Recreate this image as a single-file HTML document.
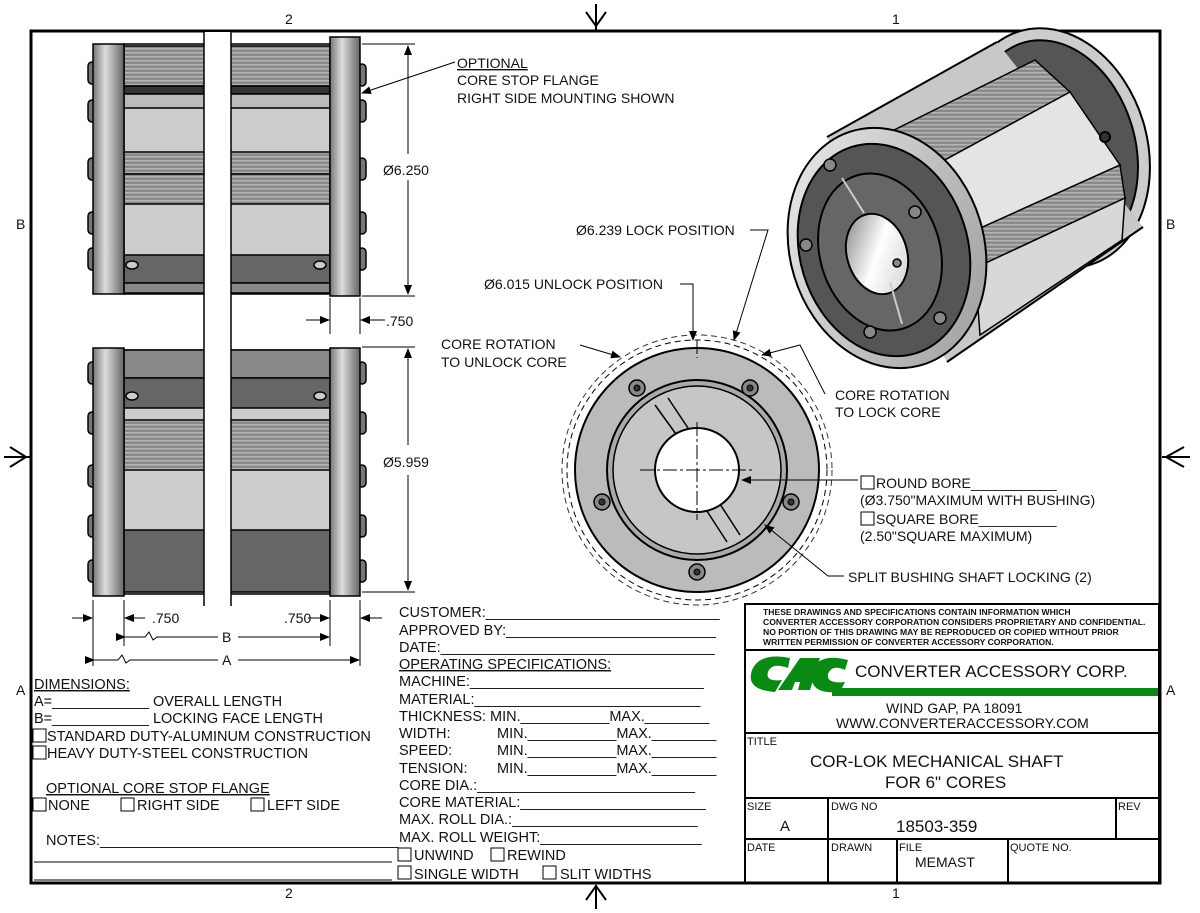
<!DOCTYPE html>
<html><head><meta charset="utf-8"><style>
html,body{margin:0;padding:0;background:#fff}
svg{display:block}
text{font-family:"Liberation Sans",sans-serif;fill:#111}
</style></head><body>
<svg width="1200" height="913" viewBox="0 0 1200 913" xmlns="http://www.w3.org/2000/svg">
<defs>
<linearGradient id="fl" x1="0" x2="1"><stop offset="0" stop-color="#777"/><stop offset=".4" stop-color="#ddd"/><stop offset="1" stop-color="#666"/></linearGradient>
<pattern id="ribs" width="4" height="4" patternUnits="userSpaceOnUse"><rect width="4" height="4" fill="#8a8a8a"/><rect y="0" width="4" height="1.5" fill="#b5b5b5"/></pattern>
<linearGradient id="cyl" x1="0" y1="0" x2="1" y2="1"><stop offset="0" stop-color="#eee"/><stop offset="1" stop-color="#999"/></linearGradient>
<linearGradient id="bore" x1="0" y1="0" x2="1" y2="1"><stop offset="0" stop-color="#777"/><stop offset=".5" stop-color="#fff"/><stop offset="1" stop-color="#ccc"/></linearGradient>
<marker id="ar" markerWidth="10" markerHeight="8" refX="9" refY="4" orient="auto"><path d="M0,0L10,4L0,8z" fill="#000"/></marker>
</defs>

<!-- border -->
<rect x="31" y="31" width="1129" height="852" fill="none" stroke="#000" stroke-width="3"/>
<text x="285" y="24" font-size="14">2</text><text x="892" y="24" font-size="14">1</text>
<text x="285" y="898" font-size="14">2</text><text x="892" y="898" font-size="14">1</text>
<text x="16" y="229" font-size="14">B</text><text x="16" y="695" font-size="14">A</text>
<text x="1166" y="229" font-size="14">B</text><text x="1166" y="695" font-size="14">A</text>
<g stroke="#000" stroke-width="2" fill="none">
<path d="M596,4V30M586,12l10,14l10,-14"/><path d="M596,909V885M586,900l10,-14l10,14"/>
<path d="M4,457H30M10,447l16,10l-16,10"/><path d="M1190,457H1162M1184,447l-18,10l18,10"/>
</g>

<!-- TOP SIDE VIEW -->
<g stroke="#000" stroke-width="1.5">
<g fill="#777"><rect x="88" y="62" width="8" height="22" rx="4"/><rect x="88" y="100" width="8" height="22" rx="4"/><rect x="88" y="158" width="8" height="22" rx="4"/><rect x="88" y="212" width="8" height="22" rx="4"/><rect x="88" y="248" width="8" height="22" rx="4"/>
<rect x="358" y="64" width="8" height="22" rx="4"/><rect x="358" y="100" width="8" height="22" rx="4"/><rect x="358" y="158" width="8" height="22" rx="4"/><rect x="358" y="212" width="8" height="22" rx="4"/><rect x="358" y="248" width="8" height="22" rx="4"/></g>
<rect x="124" y="44" width="206" height="250" fill="#ccc"/>
<rect x="124" y="46" width="206" height="40" fill="url(#ribs)"/>
<rect x="124" y="86" width="206" height="8" fill="#333"/>
<rect x="124" y="94" width="206" height="14" fill="#bbb"/>
<rect x="124" y="152" width="206" height="22" fill="url(#ribs)"/>
<rect x="124" y="174" width="206" height="30" fill="url(#ribs)"/>
<rect x="124" y="255" width="206" height="28" fill="#666"/>
<rect x="124" y="283" width="206" height="10" fill="#888"/>
<ellipse cx="132" cy="265" rx="6" ry="4" fill="#ccc"/><ellipse cx="320" cy="265" rx="6" ry="4" fill="#ccc"/>
<rect x="93" y="44" width="31" height="250" fill="url(#fl)"/>
<rect x="330" y="37" width="30" height="259" fill="url(#fl)"/>
</g>
<!-- BOTTOM SIDE VIEW -->
<g stroke="#000" stroke-width="1.5">
<g fill="#777"><rect x="88" y="362" width="8" height="22" rx="4"/><rect x="88" y="412" width="8" height="22" rx="4"/><rect x="88" y="465" width="8" height="22" rx="4"/><rect x="88" y="515" width="8" height="22" rx="4"/><rect x="88" y="560" width="8" height="22" rx="4"/>
<rect x="358" y="362" width="8" height="22" rx="4"/><rect x="358" y="412" width="8" height="22" rx="4"/><rect x="358" y="465" width="8" height="22" rx="4"/><rect x="358" y="515" width="8" height="22" rx="4"/><rect x="358" y="560" width="8" height="22" rx="4"/></g>
<rect x="124" y="350" width="206" height="244" fill="#ccc"/>
<rect x="124" y="350" width="206" height="28" fill="#888"/>
<rect x="124" y="378" width="206" height="30" fill="#666"/>
<ellipse cx="132" cy="396" rx="6" ry="4" fill="#ccc"/><ellipse cx="320" cy="396" rx="6" ry="4" fill="#ccc"/>
<rect x="124" y="420" width="206" height="50" fill="url(#ribs)"/>
<rect x="124" y="530" width="206" height="62" fill="#666"/>
<rect x="93" y="348" width="31" height="248" fill="url(#fl)"/>
<rect x="330" y="348" width="30" height="248" fill="url(#fl)"/>
</g>
<!-- break gap -->
<rect x="204" y="32" width="27" height="574" fill="#fff"/>
<g stroke="#000" stroke-width="1.5"><line x1="204" y1="32" x2="204" y2="606"/><line x1="231" y1="32" x2="231" y2="606"/></g>

<!-- dims left -->
<g stroke="#000" stroke-width="1" fill="none">
<path d="M362,44H415M362,296H415M362,347H415M362,592H415"/>
<line x1="408" y1="46" x2="408" y2="154" marker-end="url(#ar)" transform="rotate(180 408 100)"/>
<line x1="408" y1="180" x2="408" y2="294" marker-end="url(#ar)"/>
<line x1="408" y1="349" x2="408" y2="445" transform="rotate(180 408 397)" marker-end="url(#ar)"/>
<line x1="408" y1="475" x2="408" y2="590" marker-end="url(#ar)"/>
<path d="M330,298V334M360,298V334"/>
<line x1="306" y1="320" x2="329" y2="320" marker-end="url(#ar)"/><line x1="385" y1="320" x2="361" y2="320" marker-end="url(#ar)"/>
<path d="M93,600V666M124,600V646M330,600V646M360,600V666"/>
<line x1="72" y1="618" x2="92" y2="618" marker-end="url(#ar)"/><line x1="145" y1="618" x2="125" y2="618" marker-end="url(#ar)"/>
<line x1="308" y1="618" x2="329" y2="618" marker-end="url(#ar)"/><line x1="382" y1="618" x2="361" y2="618" marker-end="url(#ar)"/>
<path d="M125,637H145l4,-5l4,8l4,-3H218" marker-start="url(#ar)"/><line x1="238" y1="637" x2="329" y2="637" marker-end="url(#ar)"/>
<path d="M94,660H118l4,-5l4,8l4,-3H218" marker-start="url(#ar)"/><line x1="238" y1="660" x2="359" y2="660" marker-end="url(#ar)"/>
<line x1="455" y1="62" x2="362" y2="93" marker-end="url(#ar)"/>
</g>
<g font-size="14">
<text x="383" y="175">Ø6.250</text><text x="386" y="326">.750</text><text x="383" y="467">Ø5.959</text>
<text x="152" y="623">.750</text><text x="284" y="623">.750</text><text x="222" y="642">B</text><text x="222" y="665">A</text>
<text x="457" y="68" text-decoration="underline">OPTIONAL</text><text x="457" y="85">CORE STOP FLANGE</text><text x="457" y="103">RIGHT SIDE MOUNTING SHOWN</text>
</g>

<!-- FRONT VIEW -->
<g stroke="#000" fill="none">
<circle cx="697" cy="470" r="130" stroke-dasharray="6,4" stroke-width="1"/>
<circle cx="697" cy="470" r="135" stroke-dasharray="6,4" stroke-width="1" opacity=".8"/>
<circle cx="697" cy="470" r="122" fill="#bbb" stroke-width="2"/>
<circle cx="697" cy="470" r="90" fill="#aaa" stroke-width="2"/>
<circle cx="697" cy="470" r="84" fill="#c6c6c6" stroke-width="1.5"/>
<path d="M655,405l26,36M668,398l24,36M740,535l-22,-34M727,542l-22,-34" stroke-width="1.5"/>
<circle cx="697" cy="470" r="42" fill="#fff" stroke-width="2"/>
<path d="M640,470H755M697,422V520M697,340V358" stroke-width="1" stroke-dasharray="14,3,3,3"/>
<g fill="#888" stroke-width="1.5"><circle cx="637" cy="388" r="8"/><circle cx="750" cy="388" r="8"/><circle cx="602" cy="502" r="8"/><circle cx="791" cy="502" r="8"/><circle cx="697" cy="572" r="8"/></g>
<g fill="#333"><circle cx="637" cy="388" r="3"/><circle cx="750" cy="388" r="3"/><circle cx="602" cy="502" r="3"/><circle cx="791" cy="502" r="3"/><circle cx="697" cy="572" r="3"/></g>
<path d="M750,230H768L734,340" stroke-width="1" marker-end="url(#ar)"/>
<path d="M680,284H693V340" stroke-width="1" marker-end="url(#ar)"/>
<path d="M580,345l40,12" stroke-width="1" marker-end="url(#ar)"/>
<path d="M825,394L800,345L762,355" stroke-width="1" marker-end="url(#ar)"/>
<path d="M858,480H790L742,480" stroke-width="1" marker-end="url(#ar)"/>
<path d="M844,576H828L765,525" stroke-width="1" marker-end="url(#ar)"/>
</g>
<g font-size="14">
<text x="576" y="235">Ø6.239 LOCK POSITION</text><text x="484" y="289">Ø6.015 UNLOCK POSITION</text>
<text x="441" y="349">CORE ROTATION</text><text x="441" y="367">TO UNLOCK CORE</text>
<text x="835" y="400">CORE ROTATION</text><text x="835" y="417">TO LOCK CORE</text>
<rect x="861" y="476" width="13" height="13" fill="none" stroke="#000"/><text x="876" y="488">ROUND BORE___________</text>
<text x="860" y="505">(Ø3.750"MAXIMUM WITH BUSHING)</text>
<rect x="861" y="512" width="13" height="13" fill="none" stroke="#000"/><text x="876" y="524">SQUARE BORE__________</text>
<text x="860" y="541">(2.50"SQUARE MAXIMUM)</text>
<text x="848" y="582">SPLIT BUSHING SHAFT LOCKING (2)</text>
</g>

<!-- 3D VIEW -->
<g stroke="#000" stroke-width="2">
<ellipse cx="1055" cy="148" rx="92" ry="122" transform="rotate(-17 1055 148)" fill="#ccc"/>
<ellipse cx="1055" cy="148" rx="80" ry="110" transform="rotate(-17 1055 148)" fill="#555"/>
<path d="M827,137 L997,42 L1143,227 L947,362 Z" fill="#c8c8c8" stroke="none"/>
<path d="M827,137 L997,42" fill="none"/>
<path d="M947,362 L1143,227" fill="none"/>
<path d="M890,132 L1035,60 L1070,92 L930,168 Z" fill="url(#ribs)" stroke-width="1.5"/>
<path d="M930,168 L1070,92 L1120,165 L965,235 Z" fill="#e4e4e4" stroke-width="1.5"/>
<path d="M965,235 L1120,165 L1125,198 L975,268 Z" fill="url(#ribs)" stroke-width="1.5"/>
<path d="M975,268 L1125,198 L1122,240 L980,335 Z" fill="#d8d8d8" stroke-width="1.5"/>
<circle cx="1105" cy="137" r="5" fill="#333"/><circle cx="972" cy="215" r="5" fill="#333"/>
<ellipse cx="887" cy="248" rx="97" ry="122" transform="rotate(-17 887 248)" fill="url(#cyl)"/>
<ellipse cx="884" cy="250" rx="84" ry="108" transform="rotate(-17 884 250)" fill="#555"/>
<ellipse cx="880" cy="252" rx="60" ry="80" transform="rotate(-17 880 252)" fill="#666"/>
<ellipse cx="877" cy="254" rx="30" ry="41" transform="rotate(-17 877 254)" fill="url(#bore)"/>
<path d="M842,178l22,35M890,282l12,42" fill="none" stroke="#ccc" stroke-width="2"/>
<g fill="#888" stroke-width="1.5"><circle cx="830" cy="165" r="6"/><circle cx="915" cy="212" r="6"/><circle cx="806" cy="245" r="6"/><circle cx="940" cy="318" r="6"/><circle cx="870" cy="332" r="6"/><circle cx="897" cy="263" r="4"/></g>
</g>

<!-- left lower text -->
<g font-size="14.5">
<text x="34" y="689" text-decoration="underline">DIMENSIONS:</text>
<text x="34" y="706">A=____________ OVERALL LENGTH</text>
<text x="34" y="723">B=____________ LOCKING FACE LENGTH</text>
<rect x="33" y="729" width="13" height="13" fill="none" stroke="#000"/><text x="47" y="741">STANDARD DUTY-ALUMINUM CONSTRUCTION</text>
<rect x="33" y="746" width="13" height="13" fill="none" stroke="#000"/><text x="47" y="758">HEAVY DUTY-STEEL CONSTRUCTION</text>
<text x="46" y="793" text-decoration="underline">OPTIONAL CORE STOP FLANGE</text>
<rect x="33" y="798" width="13" height="13" fill="none" stroke="#000"/><text x="48" y="810">NONE</text>
<rect x="121" y="798" width="13" height="13" fill="none" stroke="#000"/><text x="137" y="810">RIGHT SIDE</text>
<rect x="251" y="798" width="13" height="13" fill="none" stroke="#000"/><text x="267" y="810">LEFT SIDE</text>
<text x="46" y="845">NOTES:_____________________________________</text>
</g>
<g stroke="#000" stroke-width="1"><line x1="34" y1="862" x2="392" y2="862"/><line x1="34" y1="880" x2="392" y2="880"/></g>

<!-- middle form -->
<g font-size="14.5">
<text x="399" y="617">CUSTOMER:_____________________________</text>
<text x="399" y="635">APPROVED BY:__________________________</text>
<text x="399" y="652">DATE:__________________________________</text>
<text x="399" y="669" text-decoration="underline">OPERATING SPECIFICATIONS:</text>
<text x="399" y="686">MACHINE:_____________________________</text>
<text x="399" y="704">MATERIAL:____________________________</text>
<text x="399" y="721">THICKNESS: MIN.___________MAX.________</text>
<text x="399" y="738">WIDTH:</text><text x="497" y="738">MIN.___________MAX.________</text>
<text x="399" y="755">SPEED:</text><text x="497" y="755">MIN.___________MAX.________</text>
<text x="399" y="773">TENSION:</text><text x="497" y="773">MIN.___________MAX.________</text>
<text x="399" y="790">CORE DIA.:___________________________</text>
<text x="399" y="807">CORE MATERIAL:_______________________</text>
<text x="399" y="824">MAX. ROLL DIA.:_______________________</text>
<text x="399" y="842">MAX. ROLL WEIGHT:____________________</text>
<rect x="398" y="848" width="13" height="13" fill="none" stroke="#000"/><text x="414" y="860">UNWIND</text>
<rect x="491" y="848" width="13" height="13" fill="none" stroke="#000"/><text x="507" y="860">REWIND</text>
<rect x="398" y="866" width="13" height="13" fill="none" stroke="#000"/><text x="414" y="879">SINGLE WIDTH</text>
<rect x="543" y="866" width="13" height="13" fill="none" stroke="#000"/><text x="560" y="879">SLIT WIDTHS</text>
</g>

<!-- title block -->
<g stroke="#000" stroke-width="2" fill="none">
<rect x="745" y="604" width="414" height="279"/>
<line x1="745" y1="650" x2="1159" y2="650"/>
<line x1="745" y1="733" x2="1159" y2="733"/>
<line x1="745" y1="798" x2="1159" y2="798"/>
<line x1="745" y1="839" x2="1159" y2="839"/>
<line x1="828" y1="798" x2="828" y2="883"/>
<line x1="1116" y1="798" x2="1116" y2="839"/>
<line x1="897" y1="839" x2="897" y2="883"/>
<line x1="1008" y1="839" x2="1008" y2="883"/>
</g>
<g font-size="8.6" font-weight="bold">
<text x="763" y="615">THESE DRAWINGS AND SPECIFICATIONS CONTAIN INFORMATION WHICH</text>
<text x="763" y="625">CONVERTER ACCESSORY CORPORATION CONSIDERS PROPRIETARY AND CONFIDENTIAL.</text>
<text x="763" y="635">NO PORTION OF THIS DRAWING MAY BE REPRODUCED OR COPIED WITHOUT PRIOR</text>
<text x="763" y="645">WRITTEN PERMISSION OF CONVERTER ACCESSORY CORPORATION.</text>
</g>
<g fill="#0a8a14">
<path d="M790,658 Q760,652 752,670 Q745,690 775,692 L782,680 Q765,682 768,672 Q772,662 788,668Z"/>
<path d="M778,690 L800,658 L820,658 L810,690 L798,690 L800,682 L795,682 L792,690Z"/>
<path d="M848,660 Q818,652 812,672 Q808,695 840,692 L845,682 Q826,684 828,674 Q832,664 845,670Z"/>
<rect x="832" y="688" width="326" height="8"/>
</g>
<text x="855" y="677" font-size="17">CONVERTER ACCESSORY CORP.</text>
<text x="886" y="713" font-size="14">WIND GAP, PA 18091</text>
<text x="836" y="728" font-size="14">WWW.CONVERTERACCESSORY.COM</text>
<text x="747" y="745" font-size="11">TITLE</text>
<text x="810" y="767" font-size="17">COR-LOK MECHANICAL SHAFT</text>
<text x="885" y="788" font-size="17">FOR 6" CORES</text>
<text x="747" y="810" font-size="11">SIZE</text><text x="780" y="831" font-size="15">A</text>
<text x="831" y="810" font-size="11">DWG NO</text><text x="896" y="832" font-size="17">18503-359</text>
<text x="1118" y="810" font-size="11">REV</text>
<text x="747" y="851" font-size="11">DATE</text><text x="831" y="851" font-size="11">DRAWN</text>
<text x="899" y="851" font-size="11">FILE</text><text x="915" y="867" font-size="14">MEMAST</text>
<text x="1010" y="851" font-size="11">QUOTE NO.</text>
</svg>
</body></html>
